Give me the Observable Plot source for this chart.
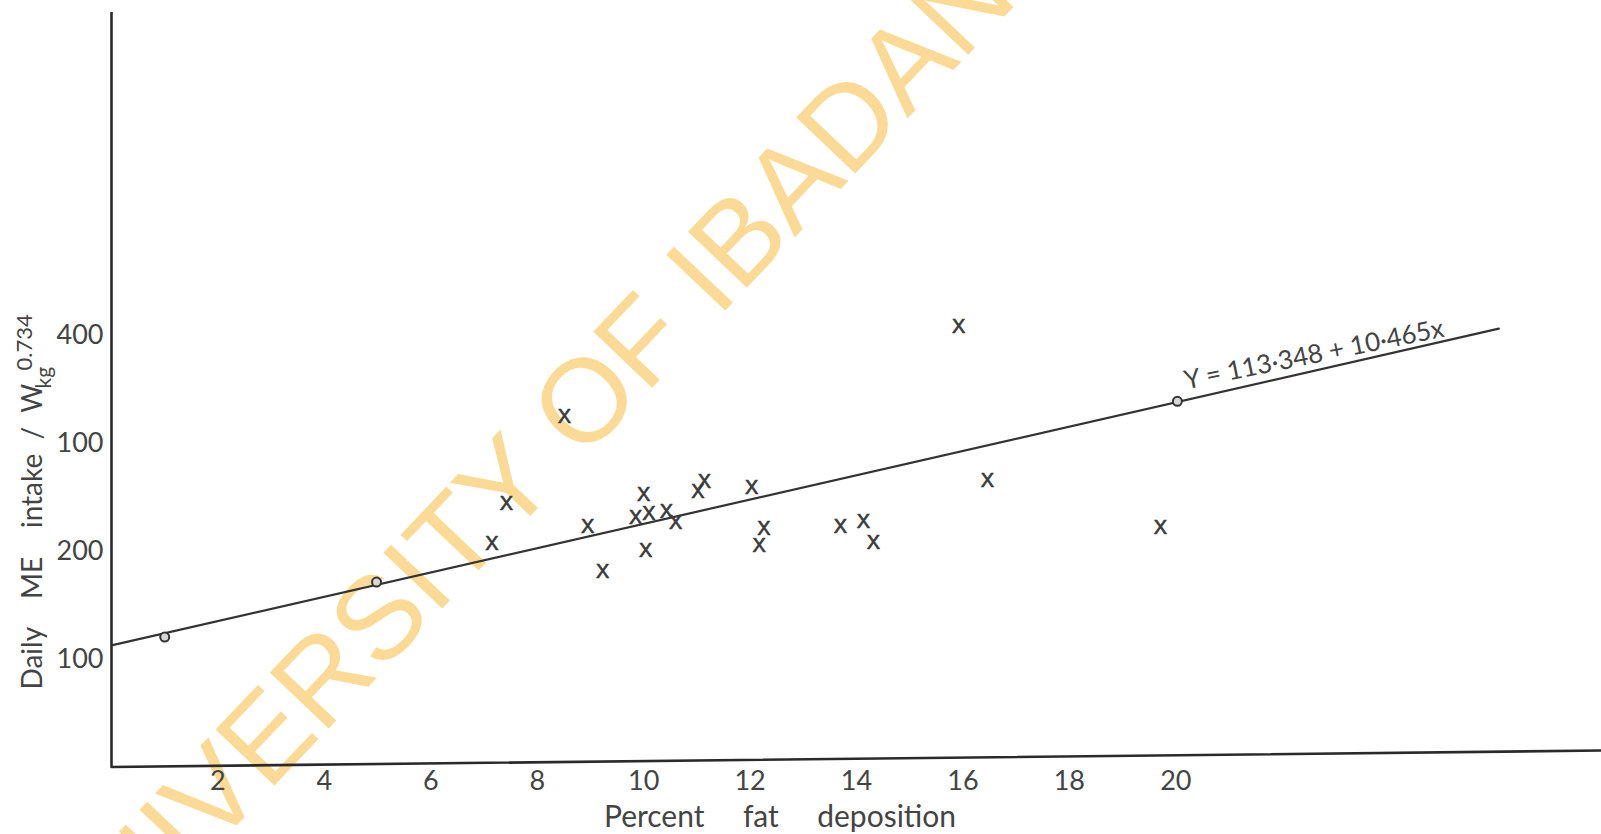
<!DOCTYPE html>
<html>
<head>
<meta charset="utf-8">
<script src="https://cdn.jsdelivr.net/npm/d3@7"></script>
<script src="https://cdn.jsdelivr.net/npm/@observablehq/plot@0.6"></script>
<style>
  html, body { margin: 0; padding: 0; background: #ffffff; }
  #chart { width: 1601px; height: 834px; overflow: hidden; }
</style>
</head>
<body>
<div id="chart"></div>
<script>
// ---- data ----
const crossX = [7.15, 7.42, 8.51, 8.95, 9.23, 10.00, 9.85, 10.10, 10.43, 10.60, 10.04,
                11.02, 11.14, 12.03, 12.17, 12.26, 13.70, 14.13, 14.32, 15.92, 16.46, 19.71];
const crossY = [207.1, 244.8, 325.3, 222.6, 180.8, 252.9, 231.8, 235.0, 237.1, 226.3, 200.3,
                255.7, 264.3, 259.1, 205.6, 221.1, 223.2, 227.2, 208.6, 408.2, 265.9, 222.0];

const fitX = [0, 26.07];
const fitY = [112.8, 406.7];

const circleX = [1.0, 4.98, 20.03];
const circleY = [120.5, 171.5, 339.2];

const axisLineX = [0, 28];
const axisLineY = [0, 15.2];

const xTicks = [2, 4, 6, 8, 10, 12, 14, 16, 18, 20];
const yTicks = [100, 200, 300, 400];
const yTickLabels = ["100", "200", "100", "400"];

const equationText = "Y = 113·348 + 10·465x";
const equationAt = [{x: 22.6, y: 382.5}];

const xTitle = "Percent\u00a0\u00a0\u00a0\u00a0\u00a0fat\u00a0\u00a0\u00a0\u00a0\u00a0deposition";
const yTitleMain = "Daily\u00a0\u00a0\u00a0\u00a0ME\u00a0\u00a0\u00a0\u00a0intake\u00a0\u00a0/\u00a0\u00a0W";
const yTitleSup = "0.734";
const yTitleSub = "kg";

const watermark = "UNIVERSITY OF IBADAN";

// ---- tables built from the arrays ----
const crosses = crossX.map((x, i) => ({x, y: crossY[i]}));
const fit = fitX.map((x, i) => ({x, y: fitY[i]}));
const circles = circleX.map((x, i) => ({x, y: circleY[i]}));
const axisLine = axisLineX.map((x, i) => ({x, y: axisLineY[i]}));

const ink = "#333333";
const textInk = "#444444";
const font = "Lato";

const chart = Plot.plot({
  width: 1601,
  height: 834,
  marginLeft: 111,
  marginRight: 0,
  marginTop: 12,
  marginBottom: 46,
  style: {fontFamily: font, fontSize: "26px", color: textInk, background: "#ffffff", overflow: "visible"},
  x: {domain: [0, 28]},
  y: {domain: [-20, 700]},
  marks: [
    // watermark underneath everything
    Plot.text([watermark], {
      frameAnchor: "top-left", dx: 408, dy: 460,
      textAnchor: "middle", lineAnchor: "middle",
      text: d => d, rotate: -46.5, fontSize: 118,
      fontFamily: "Liberation Sans", fill: "#FBDA96"
    }),
    // axes lines
    Plot.ruleX([0], {y1: 0, y2: 700, stroke: "#2a2a2a", strokeWidth: 2.6}),
    Plot.line(axisLine, {x: "x", y: "y", stroke: "#2a2a2a", strokeWidth: 2.6}),
    // tick labels
    Plot.axisX({ticks: xTicks, tickSize: 0, tickPadding: 0, dy: -18, label: null,
                fontSize: 27, fill: textInk, tickFormat: d => String(d)}),
    Plot.axisY({ticks: yTicks, tickSize: 0, tickPadding: 8, label: null,
                fontSize: 27, fill: textInk,
                tickFormat: d => yTickLabels[yTicks.indexOf(d)]}),
    // regression line and its points
    Plot.line(fit, {x: "x", y: "y", stroke: ink, strokeWidth: 2.2}),
    Plot.dot(circles, {x: "x", y: "y", r: 4.5, stroke: ink, strokeWidth: 2, fill: "#d8d8d8"}),
    // observations
    Plot.text(crosses, {x: "x", y: "y", text: () => "X", fontSize: 20,
                        fontFamily: "Liberation Sans", fill: "#3a3a3a",
                        stroke: "#3a3a3a", strokeWidth: 0.7}),
    // equation
    Plot.text(equationAt, {x: "x", y: "y", text: () => equationText, rotate: -11.5,
                           fontSize: 26, fill: textInk}),
    // x title
    Plot.text([xTitle], {frameAnchor: "bottom", text: d => d, dx: 779.5 - 856, dy: 29,
                         textAnchor: "middle", lineAnchor: "middle",
                         fontSize: 30, fill: textInk}),
    // y title
    Plot.text([yTitleMain], {frameAnchor: "left", text: d => d, rotate: -90, textAnchor: "start",
                             lineAnchor: "middle", dx: -78, dy: 289, fontSize: 28, fill: textInk}),
    Plot.text([yTitleSub], {frameAnchor: "left", text: d => d, rotate: -90, textAnchor: "start",
                            lineAnchor: "middle", dx: -67, dy: -12, fontSize: 21, fill: textInk}),
    Plot.text([yTitleSup], {frameAnchor: "left", text: d => d, rotate: -90, textAnchor: "start",
                            lineAnchor: "middle", dx: -87, dy: -30, fontSize: 22, fill: textInk})
  ]
});
document.getElementById("chart").appendChild(chart);
</script>
</body>
</html>
